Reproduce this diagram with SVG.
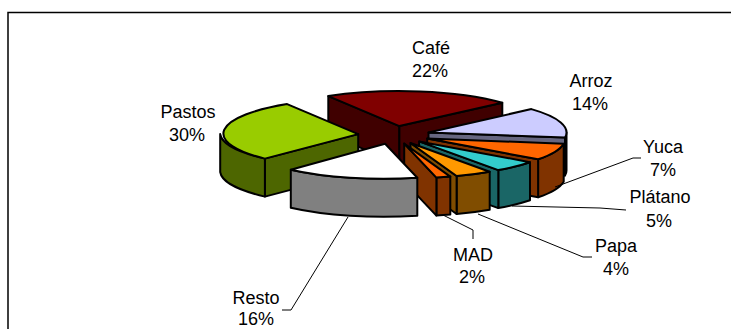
<svg xmlns="http://www.w3.org/2000/svg" width="731" height="329" viewBox="0 0 731 329">
<style>
.s{stroke:#000;stroke-width:2;stroke-linejoin:round}
.t{font-family:"Liberation Sans",Arial,sans-serif;font-size:18px;fill:#000;text-anchor:middle}
.l{fill:none;stroke:#000;stroke-width:1}
</style>
<rect x="0" y="0" width="731" height="329" fill="#fff"/>
<path d="M8,329 L8,12.5 L731,12.5" fill="none" stroke="#000" stroke-width="1.5"/>
<g id="cafe">
<path class="s" fill="#400000" d="M399.4,126.1 L328.3,96.1 L328.3,134.1 L399.4,164.1 Z"/>
<path class="s" fill="#400000" d="M399.4,126.1 L502.3,102.8 L502.3,140.8 L399.4,164.1 Z"/>
<path class="s" fill="#800000" d="M399.4,126.1 L328.3,96.1 A138,35 0 0 1 502.3,102.8 Z"/>
<text class="t" x="431" y="54">Café</text>
<text class="t" x="430" y="77">22%</text>
</g>
<g id="arroz">
<path class="s" fill="#666680" d="M566.5,132.4 A138,35 0 0 1 565.0,137.6 L565.0,175.6 A138,35 0 0 0 566.5,170.4 Z"/>
<path class="s" fill="#666680" d="M428.5,132.4 L565.0,137.6 L565.0,175.6 L428.5,170.4 Z"/>
<path class="s" fill="#CCCCFF" d="M428.5,132.4 L531.4,109.1 A138,35 0 0 1 565.0,137.6 Z"/>
<text class="t" x="591" y="87">Arroz</text>
<text class="t" x="590" y="110">14%</text>
</g>
<g id="pastos">
<path class="s" fill="#4D6600" d="M358.2,134.1 L264.9,158.6 L264.9,196.6 L358.2,172.1 Z"/>
<path class="s" fill="#4D6600" d="M264.9,158.6 A138,35 0 0 1 220.2,134.1 L220.2,172.1 A138,35 0 0 0 264.9,196.6 Z"/>
<path class="s" fill="#99CC00" d="M358.2,134.1 L264.9,158.6 A138,35 0 0 1 287.1,104.1 Z"/>
<text class="t" x="188" y="118">Pastos</text>
<text class="t" x="187" y="141">30%</text>
</g>
<g id="yuca">
<path class="s" fill="#803300" d="M563.7,143.7 A138,35 0 0 1 538.1,159.3 L538.1,197.3 A138,35 0 0 0 563.7,181.7 Z"/>
<path class="s" fill="#803300" d="M427.2,138.5 L538.1,159.3 L538.1,197.3 L427.2,176.5 Z"/>
<path class="s" fill="#FF6600" d="M427.2,138.5 L563.7,143.7 A138,35 0 0 1 538.1,159.3 Z"/>
<text class="t" x="663" y="153">Yuca</text>
<text class="t" x="663" y="176">7%</text>
</g>
<g id="platano">
<path class="s" fill="#1A6666" d="M530.0,162.2 A138,35 0 0 1 498.3,170.1 L498.3,208.1 A138,35 0 0 0 530.0,200.2 Z"/>
<path class="s" fill="#1A6666" d="M419.1,141.4 L498.3,170.1 L498.3,208.1 L419.1,179.4 Z"/>
<path class="s" fill="#33CCCC" d="M419.1,141.4 L530.0,162.2 A138,35 0 0 1 498.3,170.1 Z"/>
<text class="t" x="660" y="203">Plátano</text>
<text class="t" x="659" y="227">5%</text>
</g>
<g id="papa">
<path class="s" fill="#804D00" d="M489.7,171.7 A138,35 0 0 1 456.6,176.0 L456.6,214.0 A138,35 0 0 0 489.7,209.7 Z"/>
<path class="s" fill="#804D00" d="M410.5,143.0 L456.6,176.0 L456.6,214.0 L410.5,181.0 Z"/>
<path class="s" fill="#FF9900" d="M410.5,143.0 L489.7,171.7 A138,35 0 0 1 456.6,176.0 Z"/>
<text class="t" x="616" y="252">Papa</text>
<text class="t" x="616" y="275">4%</text>
</g>
<g id="mad">
<path class="s" fill="#803300" d="M450.3,176.6 A138,35 0 0 1 436.4,177.6 L436.4,215.6 A138,35 0 0 0 450.3,214.6 Z"/>
<path class="s" fill="#803300" d="M404.2,143.6 L436.4,177.6 L436.4,215.6 L404.2,181.6 Z"/>
<path class="s" fill="#FF6600" d="M404.2,143.6 L450.3,176.6 A138,35 0 0 1 436.4,177.6 Z"/>
<text class="t" x="473" y="261">MAD</text>
<text class="t" x="472" y="283">2%</text>
</g>
<g id="resto">
<path class="s" fill="#808080" d="M417.3,177.7 A138,35 0 0 1 290.8,169.7 L290.8,207.7 A138,35 0 0 0 417.3,215.7 Z"/>
<path class="s" fill="#FFFFFF" d="M385.1,143.7 L417.3,177.7 A138,35 0 0 1 290.8,169.7 Z"/>
<text class="t" x="256" y="304">Resto</text>
<text class="t" x="256" y="325">16%</text>
</g>
<g id="connectors">
<polyline class="l" points="348,217 291,310 282,310"/>
<polyline class="l" points="443,215 473,230 473,239"/>
<polyline class="l" points="478,214 583,257 592,257"/>
<polyline class="l" points="512,206 600,208 626,210"/>
<polyline class="l" points="555,187 633,158 641,158"/>
</g>
</svg>
